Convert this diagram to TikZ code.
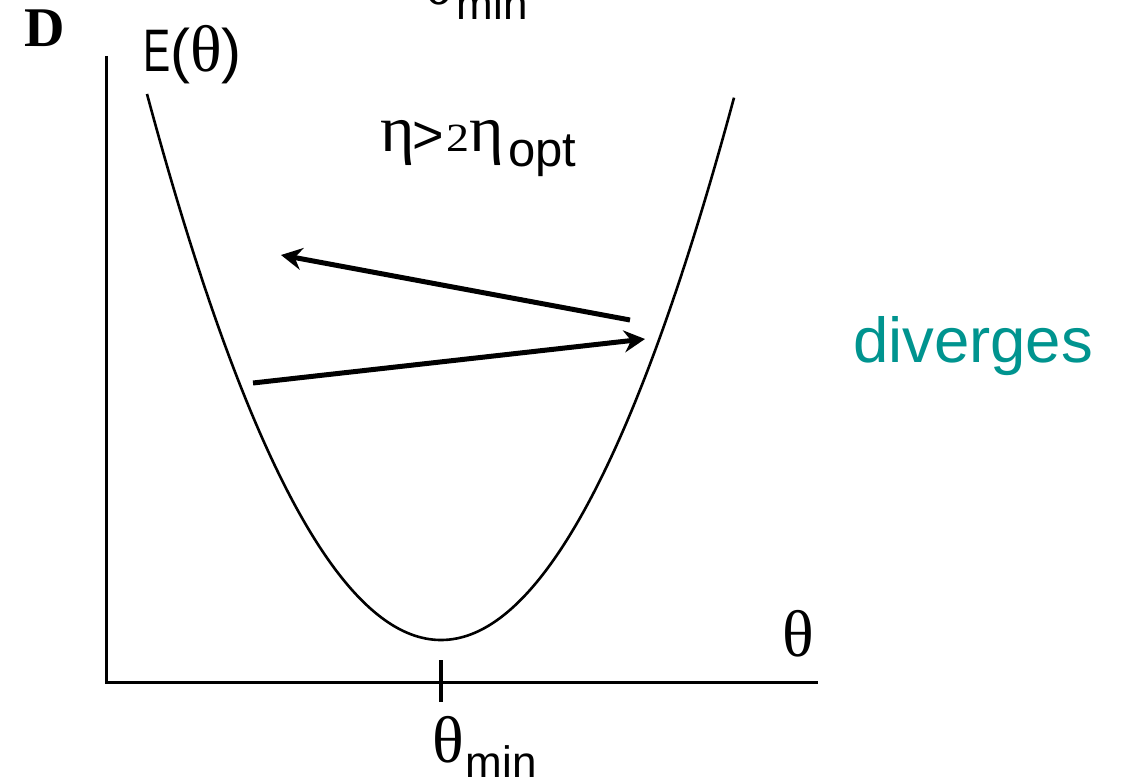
\documentclass[tikz,border=0pt]{standalone}
\usepackage{fontspec}
\setmainfont{Liberation Serif}
\setsansfont{Liberation Sans}
\usetikzlibrary{arrows.meta}
\definecolor{teal1}{RGB}{0,148,143}
\newcommand{\grk}[1]{{\fontsize{66}{66}\selectfont\rmfamily #1}}
\newcommand{\sub}[1]{\hspace{2pt}\raisebox{-15pt}{\fontsize{44}{44}\selectfont\sffamily #1}}
\begin{document}
\begin{tikzpicture}[x=1pt,y=-1pt,
  lbl/.style={inner sep=0pt,outer sep=0pt,anchor=base west},
  axis/.style={line width=3pt},
  curve/.style={line width=2.6pt},
  move/.style={line width=5pt,-{Stealth[length=21pt,width=22pt,inset=7pt]}}]
\useasboundingbox (0,0) rectangle (1126,783);
\fill[white] (0,0) rectangle (1126,783);
% axes
\coordinate (ytop) at (106,56);
\coordinate (orig) at (106,682);
\coordinate (xend) at (818,682);
\draw[axis] (ytop) -- (orig) -- (xend);
\coordinate (tk1) at (441,660);
\coordinate (tk2) at (441,702);
\draw[line width=4.5pt] (tk1) -- (tk2);
% parabola
\draw[curve,domain=147:734,samples=120,smooth] plot (\x,{640-0.00632*(\x-441)*(\x-441)});
% arrows
\coordinate (a1s) at (630,320);
\coordinate (a1e) at (281,255);
\coordinate (a2s) at (253,383);
\coordinate (a2e) at (645,339);
\draw[move] (a1s) -- (a1e);
\draw[move] (a2s) -- (a2e);
% labels
\node[lbl] (D) at (24,47) {\fontsize{56}{56}\selectfont\bfseries D};
\node[lbl] (E) at (143,72) {\fontsize{60}{60}\selectfont\sffamily\scalebox{0.68}[1]{E}(\grk{θ})};
\node[lbl] (eta1) at (380,152) {\grk{η}};
\node[lbl] (gt) at (412,154) {\fontsize{54}{54}\selectfont\sffamily >};
\node[lbl] (two) at (446,152) {\fontsize{40}{40}\selectfont\scalebox{1.15}[1]{2}};
\node[lbl] (eta2) at (469,152) {\grk{η}};
\node[lbl] (opt) at (508,167) {\fontsize{49}{49}\selectfont\sffamily opt};
\node[lbl] (th) at (782,656) {\grk{θ}};
\node[lbl] (thmin) at (432,762) {\grk{θ}\sub{min}};
\node[lbl] (thmintop) at (423,5) {\grk{θ}\sub{min}};
\node[lbl,text=teal1] (div) at (853,362) {\fontsize{63.5}{63.5}\selectfont\sffamily diverges};
\end{tikzpicture}
\end{document}
